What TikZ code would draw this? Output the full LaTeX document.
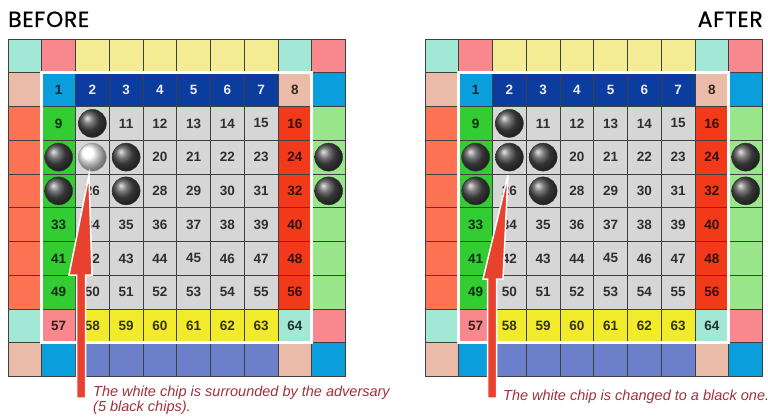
\documentclass[tikz,border=0pt]{standalone}
\usepackage{fontspec}
\setmainfont{Liberation Sans}
\newfontfamily\headfont[LetterSpace=3,FakeBold=0.6]{Poppins}
\definecolor{mint}{HTML}{A3E8D6}
\definecolor{pinkc}{HTML}{F8888E}
\definecolor{pyel}{HTML}{F3EC92}
\definecolor{peach}{HTML}{EABBA8}
\definecolor{orangec}{HTML}{FF7355}
\definecolor{bluec}{HTML}{0A9FDC}
\definecolor{lgreen}{HTML}{9AE68B}
\definecolor{dblue}{HTML}{0A3D9E}
\definecolor{greenc}{HTML}{33CC33}
\definecolor{grayc}{HTML}{D6D6D6}
\definecolor{redc}{HTML}{F23A1A}
\definecolor{yelc}{HTML}{F2EB2C}
\definecolor{violetc}{HTML}{6B7FCB}
\definecolor{capred}{HTML}{A0303C}
\definecolor{arrred}{HTML}{E8412E}
\def\s{33.75}
\tikzset{
  gridcell/.style={draw=black!75, line width=0.7pt},
  num/.style={font=\fontsize{13.5}{15}\selectfont\bfseries, inner sep=0pt},
  chipb/.style={circle, inner sep=0pt, minimum size=28pt, shading=ball, ball color=black!70, draw=black!80, line width=0.4pt},
  chipw/.style={circle, inner sep=0pt, minimum size=28pt, shading=ball, ball color=white, draw=black!40, line width=0.4pt},
  head/.style={font=\headfont\fontsize{22}{26}\selectfont, inner sep=0pt},
  caption/.style={font=\itshape\fontsize{14.5}{16}\selectfont, text=capred, inner sep=0pt},
  arrowshape/.style={fill=arrred, draw=white, line width=1.5pt, line join=miter}
}
\newcommand\cellbox[4]{%
  \filldraw[gridcell, fill=#4] ({#1+(#2)*\s},{39+(#3)*\s}) rectangle ({#1+(#2+1)*\s},{39+(#3+1)*\s});}
\newcommand\drawboard[3]{% #1 x0, #2 prefix, #3 style of chip 18
  \foreach \cc [count=\i from 0] in {mint,pinkc,pyel,pyel,pyel,pyel,pyel,pyel,mint,pinkc}
    {\cellbox{#1}{\i}{0}{\cc}}
  \foreach \cc [count=\i from 0] in {peach,bluec,violetc,violetc,violetc,violetc,violetc,violetc,peach,bluec}
    {\cellbox{#1}{\i}{9}{\cc}}
  \foreach \cc [count=\j from 1] in {peach,orangec,orangec,orangec,orangec,orangec,orangec,mint}
    {\cellbox{#1}{0}{\j}{\cc}}
  \foreach \cc [count=\j from 1] in {bluec,lgreen,lgreen,lgreen,lgreen,lgreen,lgreen,pinkc}
    {\cellbox{#1}{9}{\j}{\cc}}
  \foreach \r in {0,...,7}{
    \foreach \c in {0,...,7}{
      \pgfmathtruncatemacro\nn{8*\r+\c+1}
      \ifnum\r=0
        \ifnum\c=0 \def\cc{bluec}\else\ifnum\c=7 \def\cc{peach}\else\def\cc{dblue}\fi\fi
      \else\ifnum\r=7
        \ifnum\c=0 \def\cc{pinkc}\else\ifnum\c=7 \def\cc{mint}\else\def\cc{yelc}\fi\fi
      \else
        \ifnum\c=0 \def\cc{greenc}\else\ifnum\c=7 \def\cc{redc}\else\def\cc{grayc}\fi\fi
      \fi\fi
      \def\tc{\cc!22!black}
      \ifnum\r=0 \ifnum\c>0 \ifnum\c<7 \def\tc{white!92!blue}\fi\fi\fi
      \cellbox{#1}{\c+1}{\r+1}{\cc}
      \node[num, text=\tc] (#2-\nn) at ({#1+(\c+1.5)*\s},{39+(\r+1.5)*\s}) {\nn};
    }
  }
  \draw[white, line width=3pt] ({#1+\s},{39+\s}) rectangle ({#1+9*\s},{39+9*\s});
  \node[chipb] (#2-c10) at ({#1+2.5*\s},{39+2.5*\s}) {};
  \node[chipb] (#2-c17) at ({#1+1.5*\s},{39+3.5*\s}) {};
  \node[#3] (#2-c18) at ({#1+2.5*\s},{39+3.5*\s}) {};
  \node[chipb] (#2-c19) at ({#1+3.5*\s},{39+3.5*\s}) {};
  \node[chipb] (#2-c25) at ({#1+1.5*\s},{39+4.5*\s}) {};
  \node[chipb] (#2-c27) at ({#1+3.5*\s},{39+4.5*\s}) {};
  \node[chipb] (#2-o1) at ({#1+9.5*\s},{39+3.5*\s}) {};
  \node[chipb] (#2-o2) at ({#1+9.5*\s},{39+4.5*\s}) {};
}
\begin{document}
\begin{tikzpicture}[x=1pt,y=-1pt]
\useasboundingbox (0,0) rectangle (768,417);
\fill[white] (0,0) rectangle (768,417);
\drawboard{8}{L}{chipw}
\drawboard{425}{R}{chipb}
\node[head, anchor=base west] (before) at (8,27) {BEFORE};
\node[head, anchor=base east] (after) at (763,27) {AFTER};
% arrows
\filldraw[arrowshape] (89,175) -- (92,275) -- (85.5,275) -- (85.5,398) -- (76.5,398) -- (76.5,275) -- (69,275) -- cycle;
\filldraw[arrowshape] (508,175) -- (503,279) -- (496.5,279) -- (496.5,398) -- (487.5,398) -- (487.5,279) -- (483,279) -- cycle;
\node[caption, anchor=base west] (capL1) at (93,396) {The white chip is surrounded by the adversary};
\node[caption, anchor=base west] (capL2) at (93,411) {(5 black chips).};
\node[caption, anchor=base west] (capR) at (503,400) {The white chip is changed to a black one.};
\end{tikzpicture}
\end{document}
